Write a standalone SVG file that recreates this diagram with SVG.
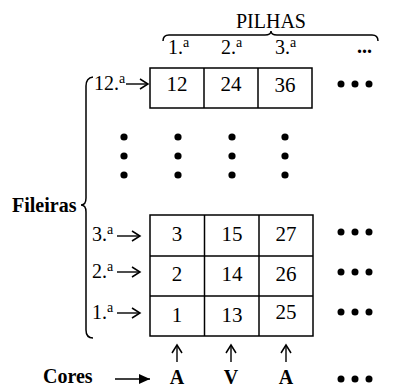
<svg xmlns="http://www.w3.org/2000/svg" width="400" height="389" viewBox="0 0 400 389">
<style>
text{font-family:"Liberation Serif","Times New Roman",serif;fill:#000}
.t{font-size:20px}
.c{font-size:21px;text-anchor:middle}
.b{font-size:20px;font-weight:bold}
.bc{font-size:20px;font-weight:bold;text-anchor:middle}
.sup{font-size:14px}
.box{fill:#fff;stroke:#000;stroke-width:1.5}
.ln{fill:none;stroke:#000;stroke-width:1.5}
.br{fill:none;stroke:#000;stroke-width:1.5}
.ar{fill:none;stroke:#000;stroke-width:1.4}
.dot{fill:#000}
</style>
<defs>
<marker id="open" markerWidth="12" markerHeight="12" refX="10" refY="6" orient="auto" markerUnits="userSpaceOnUse">
<path d="M2,1 L10,6 L2,11" fill="none" stroke="#000" stroke-width="1.5"/>
</marker>
<marker id="fill" markerWidth="12" markerHeight="12" refX="11" refY="6" orient="auto" markerUnits="userSpaceOnUse">
<path d="M0,1 L11,6 L0,11 Z" fill="#000"/>
</marker>
</defs>

<g id="header">
<text class="t" x="271" y="28" text-anchor="middle">PILHAS</text>
<path class="br" d="M163,41 Q163,35 169,35 L265,35 Q271,35 271,31 Q271,35 277,35 L372,35 Q378,35 378,41"/>
<text class="t" x="168" y="54">1.<tspan class="sup" dy="-7">a</tspan></text>
<text class="t" x="221" y="54">2.<tspan class="sup" dy="-7">a</tspan></text>
<text class="t" x="275" y="54">3.<tspan class="sup" dy="-7">a</tspan></text>
<text class="b" x="357" y="53">...</text>
</g>

<g id="row12">
<rect class="box" x="150" y="68" width="162" height="40"/>
<line class="ln" x1="204" y1="68" x2="204" y2="108"/>
<line class="ln" x1="258" y1="68" x2="258" y2="108"/>
<text class="c" x="177" y="91">12</text>
<text class="c" x="231" y="91">24</text>
<text class="c" x="285" y="92">36</text>
<text class="t" x="94" y="90">12.<tspan class="sup" dy="-7">a</tspan></text>
</g>

<g id="grid">
<rect class="box" x="150" y="215" width="163" height="121"/>
<line class="ln" x1="150" y1="256" x2="313" y2="256"/>
<line class="ln" x1="150" y1="296" x2="313" y2="296"/>
<line class="ln" x1="204.5" y1="215" x2="204.5" y2="336"/>
<line class="ln" x1="259" y1="215" x2="259" y2="336"/>
<text class="c" x="177" y="241">3</text>
<text class="c" x="232" y="241">15</text>
<text class="c" x="286" y="241">27</text>
<text class="c" x="177" y="281">2</text>
<text class="c" x="232" y="281">14</text>
<text class="c" x="286" y="281">26</text>
<text class="c" x="177" y="322">1</text>
<text class="c" x="232" y="322">13</text>
<text class="c" x="286" y="319">25</text>
</g>

<g id="rowlabels">
<text class="t" x="92" y="241">3.<tspan class="sup" dy="-7">a</tspan></text>
<text class="t" x="92" y="278">2.<tspan class="sup" dy="-7">a</tspan></text>
<text class="t" x="92" y="319">1.<tspan class="sup" dy="-7">a</tspan></text>
</g>

<g id="fileiras">
<text class="b" x="12" y="212">Fileiras</text>
<path class="br" d="M93,77 Q86,78 86,86 L86,198 Q86,205 81,205 Q86,205 86,212 L86,330 Q86,338 93,338"/>
</g>

<g id="vdots">
<circle class="dot" cx="124" cy="137" r="3.6"/>
<circle class="dot" cx="124" cy="156" r="3.6"/>
<circle class="dot" cx="124" cy="175" r="3.6"/>
<circle class="dot" cx="178" cy="137" r="3.6"/>
<circle class="dot" cx="178" cy="156" r="3.6"/>
<circle class="dot" cx="178" cy="175" r="3.6"/>
<circle class="dot" cx="232" cy="137" r="3.6"/>
<circle class="dot" cx="232" cy="156" r="3.6"/>
<circle class="dot" cx="232" cy="175" r="3.6"/>
<circle class="dot" cx="285" cy="137" r="3.6"/>
<circle class="dot" cx="285" cy="156" r="3.6"/>
<circle class="dot" cx="285" cy="175" r="3.6"/>
</g>

<g id="hdots">
<circle class="dot" cx="341" cy="84" r="3.5"/>
<circle class="dot" cx="355" cy="84" r="3.5"/>
<circle class="dot" cx="369" cy="84" r="3.5"/>
<circle class="dot" cx="341" cy="232" r="3.5"/>
<circle class="dot" cx="355" cy="232" r="3.5"/>
<circle class="dot" cx="369" cy="232" r="3.5"/>
<circle class="dot" cx="341" cy="272" r="3.5"/>
<circle class="dot" cx="355" cy="272" r="3.5"/>
<circle class="dot" cx="369" cy="272" r="3.5"/>
<circle class="dot" cx="341" cy="312" r="3.5"/>
<circle class="dot" cx="355" cy="312" r="3.5"/>
<circle class="dot" cx="369" cy="312" r="3.5"/>
<circle class="dot" cx="341" cy="379" r="3.5"/>
<circle class="dot" cx="355" cy="379" r="3.5"/>
<circle class="dot" cx="369" cy="379" r="3.5"/>
</g>

<g id="cores">
<text class="b" x="43" y="383">Cores</text>
<text class="bc" x="177" y="384">A</text>
<text class="bc" x="231" y="384">V</text>
<text class="bc" x="286" y="384">A</text>
</g>

<g id="connectors">
<line class="ar" x1="126" y1="84" x2="148" y2="84" marker-end="url(#open)"/>
<line class="ar" x1="117" y1="236" x2="140" y2="236" marker-end="url(#open)"/>
<line class="ar" x1="117" y1="272" x2="140" y2="272" marker-end="url(#open)"/>
<line class="ar" x1="117" y1="313" x2="140" y2="313" marker-end="url(#open)"/>
<line class="ar" x1="177" y1="362" x2="177" y2="345" marker-end="url(#open)"/>
<line class="ar" x1="231" y1="362" x2="231" y2="345" marker-end="url(#open)"/>
<line class="ar" x1="286" y1="362" x2="286" y2="345" marker-end="url(#open)"/>
<line class="ar" x1="115" y1="379" x2="150" y2="379" marker-end="url(#fill)"/>
</g>
</svg>
